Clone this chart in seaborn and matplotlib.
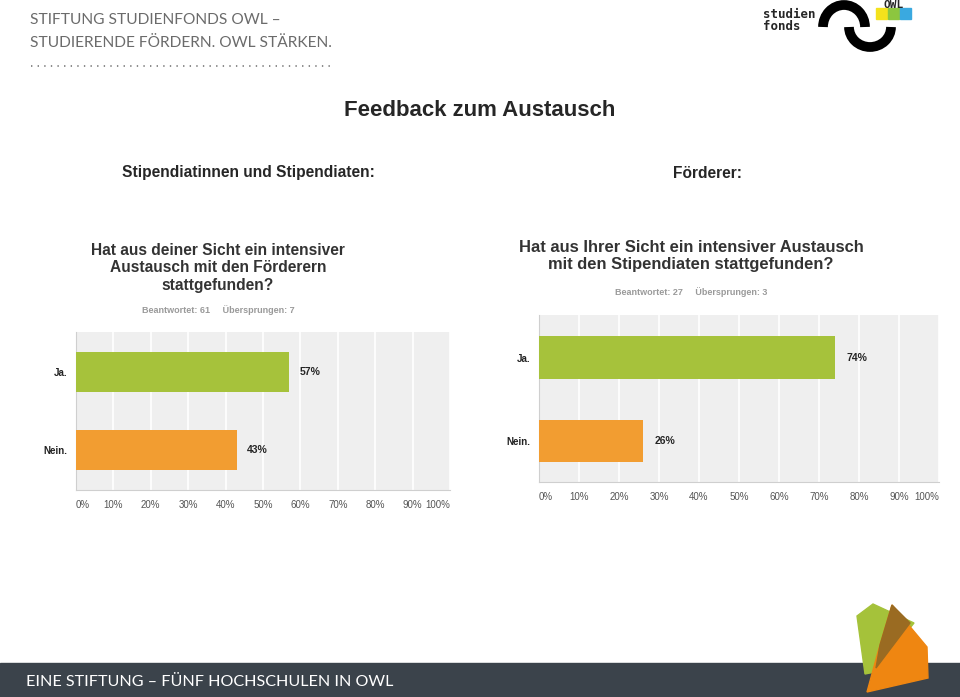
import matplotlib
matplotlib.use('Agg')
import matplotlib.pyplot as plt
import matplotlib.patches as mpatches
import seaborn as sns
import pandas as pd
import numpy as np

antworten = ['Ja.', 'Nein.']
stipendiaten = [57, 43]
foerderer = [74, 26]
ticks = list(range(0, 101, 10))
tick_labels = ['{}%'.format(t) for t in ticks]
farben = {'Ja.': '#a6c23b', 'Nein.': '#f29d31'}

titel_stip = 'Hat aus deiner Sicht ein intensiver\nAustausch mit den Förderern\nstattgefunden?'
titel_foerd = 'Hat aus Ihrer Sicht ein intensiver Austausch\nmit den Stipendiaten stattgefunden?'
info_stip = 'Beantwortet: 61     Übersprungen: 7'
info_foerd = 'Beantwortet: 27     Übersprungen: 3'

sns.set_style('white')
plt.rcParams['font.family'] = ['Liberation Sans', 'DejaVu Sans']

W, H = 960, 697
fig = plt.figure(figsize=(9.6, 6.97), dpi=100)

# background layer in pixel coordinates (header, logos, footer)
bg = fig.add_axes([0, 0, 1, 1])
bg.set_xlim(0, W)
bg.set_ylim(H, 0)
bg.axis('off')

bg.text(30, 20, 'STIFTUNG STUDIENFONDS OWL –', fontsize=11.2, color='#6b6b6b',
        family=['Lato', 'DejaVu Sans'], va='center')
bg.text(30, 43, 'STUDIERENDE FÖRDERN. OWL STÄRKEN.', fontsize=11.2, color='#6b6b6b',
        family=['Lato', 'DejaVu Sans'], va='center')
bg.plot([31, 332], [66, 66], color='#8a8a8a', lw=1.4, ls=(0, (0.7, 2.7)))

# studienfonds logo
bg.text(763, 14, 'studien', fontsize=9, weight='bold', family='DejaVu Sans Mono', va='center')
bg.text(763, 27, 'fonds', fontsize=9, weight='bold', family='DejaVu Sans Mono', va='center')
bg.add_patch(mpatches.Arc((844, 27), 42, 44, theta1=180, theta2=360, lw=7, color='black'))
bg.add_patch(mpatches.Arc((870, 27), 42, 40, theta1=0, theta2=180, lw=7, color='black'))
for x0, c in [(876, '#f4e21c'), (888, '#8cc63f'), (900, '#3aa9e0')]:
    bg.add_patch(mpatches.Rectangle((x0, 8), 11, 11, color=c))
bg.text(894, 0.5, 'OWL', fontsize=8, weight='bold', family='DejaVu Sans Mono', ha='center', va='top')

# main headings
bg.text(480, 110, 'Feedback zum Austausch', fontsize=16, weight='bold', ha='center', va='center',
        family=['Liberation Sans Narrow', 'Liberation Sans'])
bg.text(248, 173, 'Stipendiatinnen und Stipendiaten:', fontsize=11.2, weight='bold', ha='center', va='center',
        family=['Liberation Sans Narrow', 'Liberation Sans'])
bg.text(708, 173, 'Förderer:', fontsize=11.2, weight='bold', ha='center', va='center',
        family=['Liberation Sans Narrow', 'Liberation Sans'])

# survey titles
bg.text(218, 268, titel_stip, fontsize=11.2, weight='bold', color='#333333', ha='center', va='center',
        linespacing=1.2)
bg.text(691, 256, titel_foerd, fontsize=11.9, weight='bold', color='#333333', ha='center', va='center',
        linespacing=1.2)
bg.text(218, 310, info_stip, fontsize=6.5, weight='bold', color='#9a9a9a', ha='center', va='center')
bg.text(691, 292, info_foerd, fontsize=6.5, weight='bold', color='#9a9a9a', ha='center', va='center')

# footer
bg.add_patch(mpatches.Rectangle((0, 663), W, 34, color='#3b434b'))
bg.text(26, 682, 'EINE STIFTUNG – FÜNF HOCHSCHULEN IN OWL', fontsize=11.6, color='white',
        family=['Lato', 'DejaVu Sans'], va='center')
bg.add_patch(mpatches.Polygon([(857, 616), (873, 604), (914, 623), (875, 672), (865, 674)],
                              color='#a5c23a', zorder=3))
bg.add_patch(mpatches.Polygon([(892, 605), (927, 647), (928, 678), (867, 692), (878, 652)],
                              color='#ef8611', zorder=4))
bg.add_patch(mpatches.Polygon([(892, 605), (910, 623), (876, 668), (880, 645)],
                              color='#9a6b22', zorder=5))


def draw_chart(rect, werte, ymax):
    ax = fig.add_axes(rect)
    df = pd.DataFrame({'Antwort': antworten, 'Prozent': werte})
    sns.barplot(data=df, x='Prozent', y='Antwort', hue='Antwort', palette=farben,
                orient='h', width=0.51, saturation=1, linewidth=0, legend=False, ax=ax, zorder=3)
    ax.set_facecolor('#efefef')
    ax.set_xlim(0, 100)
    ax.set_ylim(ymax, -0.51)
    ax.set_xticks(ticks)
    ax.set_xticklabels(tick_labels, fontsize=7, color='#555555')
    labs = ax.get_xticklabels()
    labs[0].set_ha('left')
    labs[-1].set_ha('right')
    ax.tick_params(axis='x', length=0, pad=7)
    ax.tick_params(axis='y', length=0, pad=6)
    for lab in ax.get_yticklabels():
        lab.set_fontsize(7)
        lab.set_fontweight('bold')
        lab.set_color('#222222')
    ax.grid(axis='x', color='white', lw=1.2, zorder=1)
    ax.set_axisbelow(True)
    for s in ['top', 'right']:
        ax.spines[s].set_visible(False)
    for s in ['left', 'bottom']:
        ax.spines[s].set_color('#cfcfcf')
    ax.set_xlabel('')
    ax.set_ylabel('')
    for i, v in enumerate(werte):
        ax.text(v + 2.8, i, '{}%'.format(v), fontsize=7.5, weight='bold', va='center', ha='left')
    return ax


draw_chart([76 / W, 1 - 490 / H, 374 / W, 158 / H], stipendiaten, 1.51)
draw_chart([539 / W, 1 - 482 / H, 400 / W, 167 / H], foerderer, 1.49)

fig.savefig('out.png', dpi=100)
